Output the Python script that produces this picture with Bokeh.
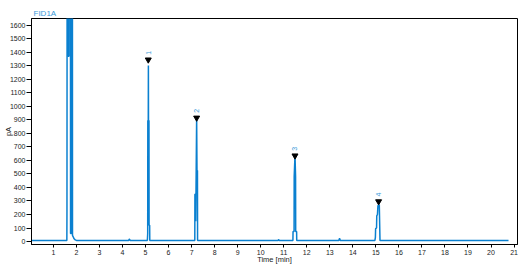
from bokeh.plotting import figure
from bokeh.models import FixedTicker, Range1d, ColumnDataSource
from bokeh.embed import file_html
from bokeh.resources import INLINE
import math

# Chromatogram trace (time in min, signal in pA)
trace_time = [0.05, 1.585, 1.59, 1.60, 1.64, 1.645, 1.675, 1.68, 1.74, 1.745, 1.785, 1.79, 1.825, 1.83, 1.86, 1.90, 1.95, 2.00,
              4.27, 4.29, 4.31, 4.33,
              5.08, 5.095, 5.10, 5.12, 5.125, 5.13, 5.15, 5.155, 5.18, 5.185,
              7.14, 7.145, 7.17, 7.18, 7.20, 7.22, 7.235, 7.255, 7.26,
              10.76, 10.77, 10.79, 10.80,
              11.40, 11.405, 11.45, 11.455, 11.49, 11.515, 11.52, 11.56, 11.565,
              13.40, 13.41, 13.44, 13.45,
              14.96, 14.98, 14.99, 15.03, 15.04, 15.07, 15.09, 15.15, 15.18,
              20.76]
trace_signal = [8, 8, 230, 3000, 3000, 1370, 1370, 3000, 3000, 60, 60, 3000, 3000, 45, 35, 20, 12, 8,
                8, 16, 16, 8,
                8, 60, 895, 895, 1302, 895, 895, 120, 120, 8,
                8, 350, 350, 150, 525, 920, 525, 525, 8,
                8, 14, 14, 8,
                8, 75, 75, 480, 640, 480, 75, 75, 8,
                8, 20, 20, 8,
                8, 30, 95, 100, 190, 200, 265, 270, 8,
                8]

# Integrated peaks
peak_times = [5.12, 7.22, 11.49, 15.12]
peak_marks = [1345, 915, 635, 296]
peak_labels = ["1", "2", "3", "4"]

x_ticks = list(range(1, 22))
y_ticks = list(range(0, 1700, 100))

FONT = "Liberation Sans"
TRACE = "#0a80d0"
LABEL_BLUE = "#3a9ad9"
TXT = "#222222"

p = figure(width=524, height=268, output_backend="svg", toolbar_location=None,
           x_range=Range1d(0.05, 21.15), y_range=Range1d(-22, 1650),
           min_border_left=31, min_border_right=7, min_border_top=18, min_border_bottom=24,
           background_fill_color="white", border_fill_color="white")

p.title.text = "FID1A"
p.title.text_font = FONT
p.title.text_font_size = "8px"
p.title.text_font_style = "normal"
p.title.text_color = LABEL_BLUE
p.title.align = "left"
p.title.offset = 2
p.title.standoff = 2

p.xgrid.visible = False
p.ygrid.visible = False
p.outline_line_color = "black"
p.outline_line_width = 1

p.line(trace_time, trace_signal, line_color=TRACE, line_width=1.5)

src = ColumnDataSource(dict(t=peak_times, y=peak_marks, lab=peak_labels))
p.scatter("t", "y", source=src, marker="inverted_triangle", size=6, fill_color="black", line_color="black")
p.text("t", "y", text="lab", source=src, angle=math.pi / 2, y_offset=-5,
       text_align="left", text_baseline="middle", text_color=LABEL_BLUE,
       text_font_size="7px", text_font={"value": FONT})

for ax in (p.xaxis, p.yaxis):
    ax.axis_line_color = "black"
    ax.major_tick_line_color = "black"
    ax.minor_tick_line_color = None
    ax.major_tick_in = 0
    ax.major_label_text_font = FONT
    ax.major_label_text_font_size = "7px"
    ax.major_label_text_color = TXT
    ax.axis_label_text_font = FONT
    ax.axis_label_text_font_size = "7.5px"
    ax.axis_label_text_font_style = "normal"
    ax.axis_label_text_color = TXT

p.xaxis.ticker = FixedTicker(ticks=x_ticks)
p.xaxis.major_tick_out = 3
p.xaxis.major_label_standoff = 2
p.xaxis.axis_label = "Time [min]"
p.xaxis.axis_label_standoff = -3

p.yaxis.ticker = FixedTicker(ticks=y_ticks)
p.yaxis.major_tick_out = 5
p.yaxis.major_label_standoff = 1
p.yaxis.axis_label = "pA"
p.yaxis.axis_label_standoff = -6

open("out.html", "w").write(file_html(p, INLINE))
